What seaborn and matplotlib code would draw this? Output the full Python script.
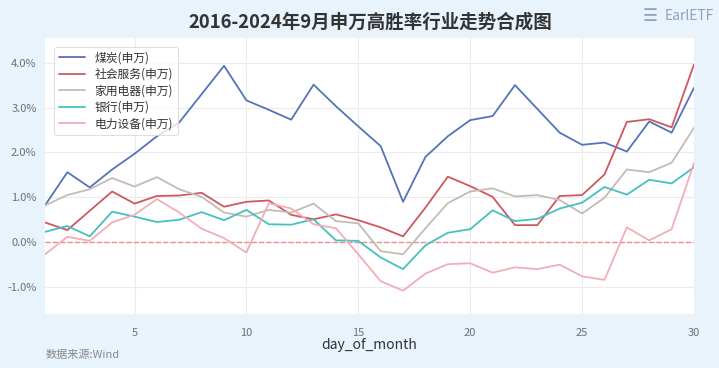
import numpy as np
import pandas as pd
import matplotlib
matplotlib.use("Agg")
import matplotlib.pyplot as plt
from matplotlib.ticker import FuncFormatter
import seaborn as sns

# 数据 (%), 9月各交易日平均涨跌
days = list(range(1, 31))
coal = [0.82, 1.56, 1.22, 1.62, 1.97, 2.36, 2.67, 3.30, 3.93, 3.16, 2.95, 2.73, 3.51, 3.03, 2.58,
        2.14, 0.90, 1.90, 2.36, 2.72, 2.81, 3.50, 2.97, 2.44, 2.17, 2.22, 2.02, 2.69, 2.44, 3.44]
social = [0.44, 0.27, 0.70, 1.13, 0.86, 1.03, 1.04, 1.10, 0.79, 0.90, 0.93, 0.61, 0.51, 0.62, 0.49,
          0.33, 0.13, 0.77, 1.46, 1.25, 1.01, 0.38, 0.38, 1.03, 1.05, 1.51, 2.68, 2.74, 2.56, 3.96]
appliance = [0.82, 1.05, 1.18, 1.43, 1.24, 1.45, 1.18, 1.01, 0.66, 0.57, 0.72, 0.66, 0.86, 0.47, 0.42,
             -0.20, -0.27, 0.31, 0.87, 1.13, 1.20, 1.02, 1.05, 0.94, 0.64, 0.99, 1.62, 1.56, 1.77, 2.55]
bank = [0.23, 0.36, 0.13, 0.68, 0.57, 0.45, 0.50, 0.67, 0.49, 0.72, 0.40, 0.39, 0.51, 0.04, 0.03,
        -0.34, -0.60, -0.07, 0.21, 0.29, 0.71, 0.47, 0.52, 0.75, 0.88, 1.23, 1.06, 1.39, 1.31, 1.67]
power = [-0.27, 0.12, 0.03, 0.44, 0.61, 0.96, 0.66, 0.30, 0.09, -0.23, 0.87, 0.75, 0.40, 0.31, -0.27,
         -0.87, -1.08, -0.70, -0.49, -0.47, -0.68, -0.56, -0.60, -0.50, -0.76, -0.84, 0.33, 0.04, 0.29, 1.76]

names = ["煤炭(申万)", "社会服务(申万)", "家用电器(申万)", "银行(申万)", "电力设备(申万)"]
series = [coal, social, appliance, bank, power]
colors = ["#5573b8", "#cf5860", "#c4bcb4", "#46c0c0", "#f3adb6"]

rows = []
for n, s in zip(names, series):
    for d, v in zip(days, s):
        rows.append({"day_of_month": d, "ret": v, "industry": n})
df = pd.DataFrame(rows)

sns.set_theme(style="whitegrid")
plt.rcParams["font.family"] = ["Noto Sans CJK SC", "DejaVu Sans"]
plt.rcParams["axes.unicode_minus"] = False

bg = "#e9f3fc"
fig = plt.figure(figsize=(7.19, 3.68), dpi=100, facecolor=bg)
ax = fig.add_axes([45 / 719, 1 - 314 / 368, (694 - 45) / 719, (314 - 38) / 368])
ax.set_facecolor("white")

sns.lineplot(data=df, x="day_of_month", y="ret", hue="industry", palette=dict(zip(names, colors)),
             linewidth=1.3, ax=ax)
ax.axhline(0, color="#f08c90", linestyle="--", linewidth=1.0, zorder=1)

ax.set_xlim(1, 30)
ax.set_ylim(-1.6, 4.55)
ax.set_xticks([5, 10, 15, 20, 25, 30])
ax.set_yticks([-1, 0, 1, 2, 3, 4])
ax.yaxis.set_major_formatter(FuncFormatter(lambda v, p: f"{v:.1f}%"))
ax.tick_params(axis="both", length=0, labelsize=8, labelcolor="#707070")
ax.tick_params(axis="x", pad=10)
ax.tick_params(axis="y", pad=6)
ax.set_xlabel("day_of_month", fontsize=10, color="#333333", labelpad=0)
ax.set_ylabel("")
ax.grid(True, color="#ebebeb", linewidth=0.8)
for sp in ax.spines.values():
    sp.set_visible(False)

leg = ax.legend(loc="upper left", fontsize=8.5, frameon=True, handlelength=2.2,
                borderpad=0.4, labelspacing=0.3, handletextpad=0.8,
                bbox_to_anchor=(0.005, 0.99))
leg.get_frame().set_edgecolor("#d8d8d8")
leg.get_frame().set_linewidth(0.8)
for t in leg.get_texts():
    t.set_color("#333333")

fig.text(370 / 719, 1 - 22 / 368, "2016-2024年9月申万高胜率行业走势合成图", ha="center", va="center",
         fontsize=13.3, fontweight="bold", color="#333333")
fig.text(46 / 719, 1 - 355 / 368, "数据来源:Wind", ha="left", va="center", fontsize=8, color="#888888")
fig.text(665 / 719, 1 - 16 / 368, "EarlETF", ha="left", va="center", fontsize=10, color="#8ea3bf")
fig.text(650 / 719, 1 - 16 / 368, "\u2630", ha="center", va="center", fontsize=12, color="#8ea3bf",
         family=["DejaVu Sans"])

plt.savefig("out.png", dpi=100, facecolor=bg)
